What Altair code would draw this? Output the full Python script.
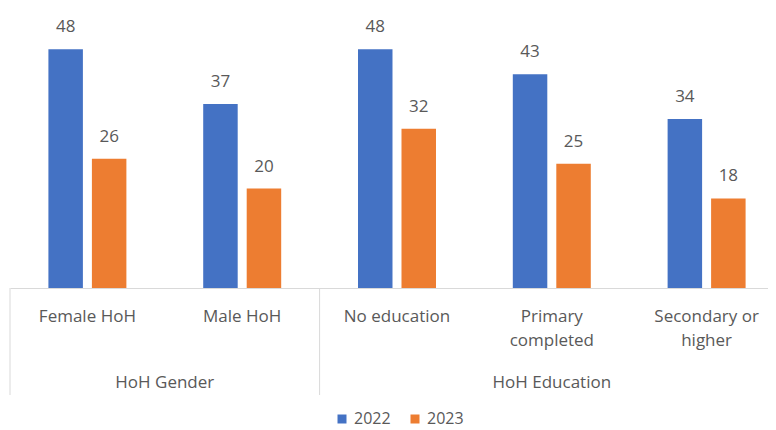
import altair as alt
import pandas as pd

categories = ["Female HoH", "Male HoH", "No education", "Primary completed", "Secondary or higher"]
cat_labels = ["Female HoH", "Male HoH", "No education", "Primary\ncompleted", "Secondary or\nhigher"]
groups = ["HoH Gender", "HoH Gender", "HoH Education", "HoH Education", "HoH Education"]
years = ["2022", "2023"]
values_2022 = [48, 37, 48, 43, 34]
values_2023 = [26, 20, 32, 25, 18]
colors = ["#4472C4", "#ED7D31"]

rows = []
for c, g, a, b in zip(categories, groups, values_2022, values_2023):
    rows.append({"cat": c, "group": g, "year": years[0], "value": a})
    rows.append({"cat": c, "group": g, "year": years[1], "value": b})
df = pd.DataFrame(rows)

cat_df = pd.DataFrame({"cat": categories, "label": cat_labels})
starts = [c for i, c in enumerate(categories) if i == 0 or groups[i] != groups[i - 1]]
sep_df = pd.DataFrame({"cat": starts})
gender_df = pd.DataFrame({"cat": [categories[1]], "label": [groups[0]]})
edu_df = pd.DataFrame({"cat": [categories[3]], "label": [groups[2]]})

FONT = "Open Sans"
GRAY = "#595959"
LINE = "#d9d9d9"
BAND = 154.8

X_AX = alt.Axis(labels=False, ticks=False, title=None, grid=False,
                domainColor=LINE, domainWidth=1)
xscale = alt.Scale(domain=categories, range=[0, BAND * 5], paddingInner=0, paddingOuter=0)
yscale = alt.Scale(domain=[0, 56.3], nice=False, zero=True)
xoff = alt.XOffset("year:N", scale=alt.Scale(domain=years, paddingInner=0.207, paddingOuter=0.883))

bars = alt.Chart(df).mark_bar().encode(
    x=alt.X("cat:N", scale=xscale, axis=X_AX, sort=categories),
    xOffset=xoff,
    y=alt.Y("value:Q", scale=yscale, axis=None),
    color=alt.Color("year:N", scale=alt.Scale(domain=years, range=colors),
                    legend=alt.Legend(title=None, orient="none", direction="horizontal",
                                      legendX=324, legendY=403, symbolType="square",
                                      symbolSize=81, symbolStrokeWidth=0,
                                      labelFontSize=16, labelColor=GRAY, labelFont=FONT,
                                      columnPadding=16, labelOffset=4)),
)

vals = alt.Chart(df).mark_text(dy=-17, baseline="alphabetic", fontSize=17, color=GRAY, font=FONT).encode(
    x=alt.X("cat:N", axis=X_AX, sort=categories),
    xOffset=xoff,
    y=alt.Y("value:Q", axis=None),
    text=alt.Text("value:Q"),
)

cat_text = alt.Chart(cat_df).mark_text(baseline="alphabetic", lineBreak="\n", lineHeight=24,
                                       fontSize=17, color=GRAY, font=FONT).encode(
    x=alt.X("cat:N", axis=X_AX, sort=categories),
    y=alt.value(314),
    text="label:N",
)

seps = alt.Chart(sep_df).mark_rule(color=LINE, strokeWidth=1).encode(
    x=alt.X("cat:N", axis=X_AX, bandPosition=0, sort=categories),
    y=alt.value(280),
    y2=alt.value(387),
)

g1 = alt.Chart(gender_df).mark_text(baseline="alphabetic", fontSize=17, color=GRAY, font=FONT).encode(
    x=alt.X("cat:N", axis=X_AX, bandPosition=0, sort=categories),
    y=alt.value(380),
    text="label:N",
)
g2 = alt.Chart(edu_df).mark_text(baseline="alphabetic", fontSize=17, color=GRAY, font=FONT).encode(
    x=alt.X("cat:N", axis=X_AX, bandPosition=0.5, sort=categories),
    y=alt.value(380),
    text="label:N",
)

chart = alt.layer(bars, vals, seps, cat_text, g1, g2).properties(
    width=758, height=280,
    autosize=alt.AutoSizeParams(type="none"),
    padding={"left": 2, "top": 0, "right": 0, "bottom": 142},
).configure_view(stroke=None)

chart.save("out.html", embed_options={"renderer": "svg", "actions": False})
